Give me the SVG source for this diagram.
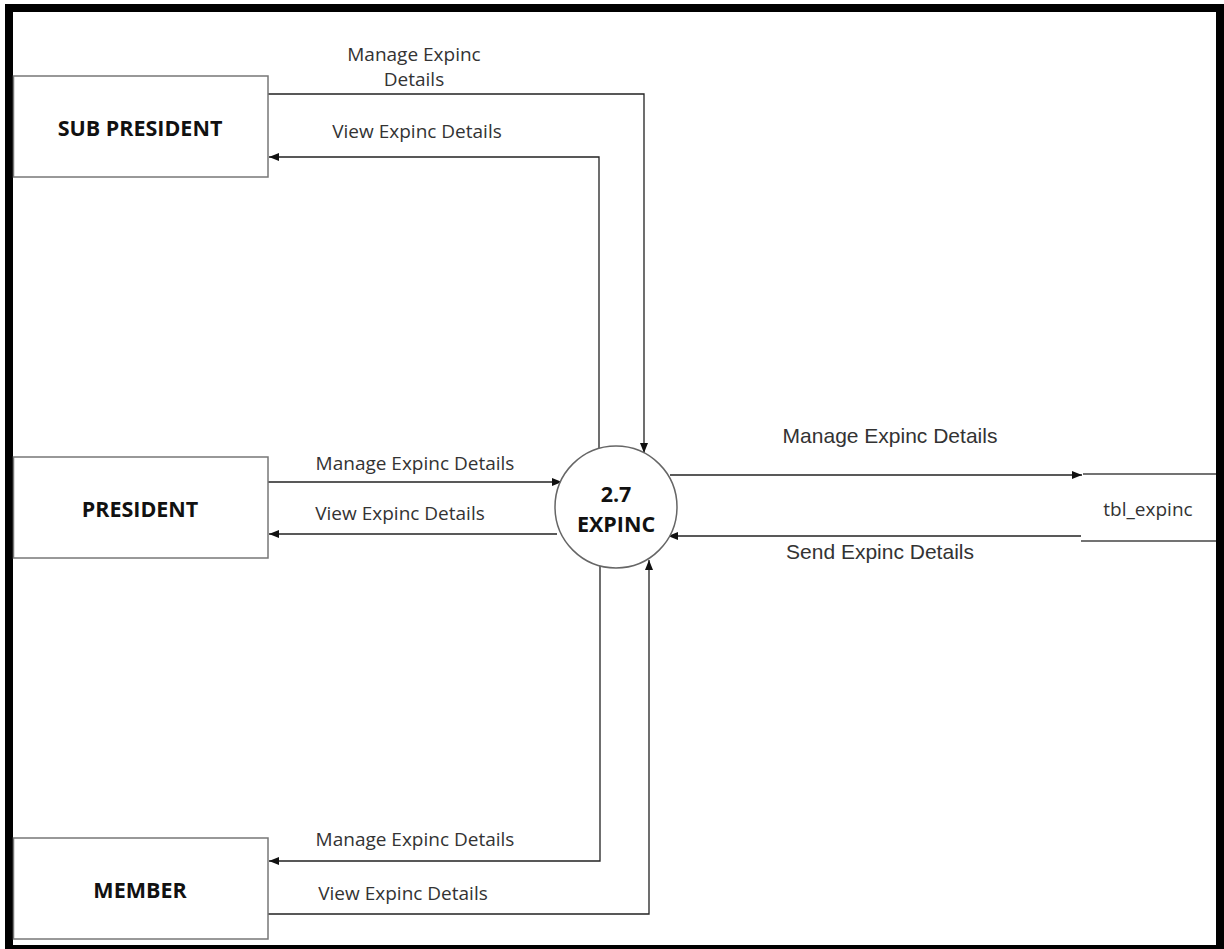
<svg xmlns="http://www.w3.org/2000/svg" width="1224" height="949" viewBox="0 0 1224 949">
<style>
.ent{fill:#fff;stroke:#777;stroke-width:1.5}
.nt{font-family:"Open Sans","Noto Sans",sans-serif;font-weight:bold;font-size:21.5px;fill:#111;text-anchor:middle}
.lb{font-family:"Open Sans","Noto Sans",sans-serif;font-size:19px;fill:#333;text-anchor:middle}
.lb2{font-family:"Liberation Sans",Arial,sans-serif;font-size:21px;fill:#333;text-anchor:middle}
.ln{fill:none;stroke:#222;stroke-width:1.3}
.ds{stroke:#444;stroke-width:1.5}
</style>
<defs>
<marker id="ah" viewBox="0 0 10 10" refX="10" refY="5" markerWidth="10" markerHeight="10" markerUnits="userSpaceOnUse" orient="auto">
<path d="M0,1 L10,5 L0,9 Z" fill="#111"/>
</marker>
</defs>
<rect x="0" y="0" width="1224" height="949" fill="#fff"/>
<rect x="9" y="8" width="1211" height="941" fill="none" stroke="#000" stroke-width="8"/>
<g id="connectors">
<polyline class="ln" points="268,94 644,94 644,453" marker-end="url(#ah)"/>
<polyline class="ln" points="599,448 599,157 269,157" marker-end="url(#ah)"/>
<polyline class="ln" points="268,482 562,482" marker-end="url(#ah)"/>
<polyline class="ln" points="557,534 269,534" marker-end="url(#ah)"/>
<polyline class="ln" points="600,566 600,861 269,861" marker-end="url(#ah)"/>
<polyline class="ln" points="268,914 649,914 649,560" marker-end="url(#ah)"/>
<polyline class="ln" points="670,475 1082,475" marker-end="url(#ah)"/>
<polyline class="ln" points="1081,536 668,536" marker-end="url(#ah)"/>
<text class="lb" x="414" y="61">Manage Expinc</text>
<text class="lb" x="414" y="86">Details</text>
<text class="lb" x="417" y="138">View Expinc Details</text>
<text class="lb" x="415" y="470">Manage Expinc Details</text>
<text class="lb" x="400" y="520">View Expinc Details</text>
<text class="lb2" x="890" y="443">Manage Expinc Details</text>
<text class="lb2" x="880" y="559">Send Expinc Details</text>
<text class="lb" x="415" y="846">Manage Expinc Details</text>
<text class="lb" x="403" y="900">View Expinc Details</text>
</g>
<g id="sub-president">
<rect class="ent" x="13.5" y="76" width="254.5" height="101"/>
<text class="nt" x="140" y="136">SUB PRESIDENT</text>
</g>
<g id="president">
<rect class="ent" x="13.5" y="457" width="254.5" height="101"/>
<text class="nt" x="140" y="517">PRESIDENT</text>
</g>
<g id="member">
<rect class="ent" x="13.5" y="838" width="254.5" height="101"/>
<text class="nt" x="140" y="898">MEMBER</text>
</g>
<g id="process">
<circle cx="616" cy="507" r="61" fill="#fff" stroke="#666" stroke-width="1.5"/>
<text class="nt" x="616" y="502">2.7</text>
<text class="nt" x="616" y="532">EXPINC</text>
</g>
<g id="tbl-expinc">
<line class="ds" x1="1083" y1="474" x2="1216" y2="474"/>
<line class="ds" x1="1081" y1="541" x2="1216" y2="541"/>
<text class="lb" x="1148" y="516">tbl_expinc</text>
</g>
</svg>
